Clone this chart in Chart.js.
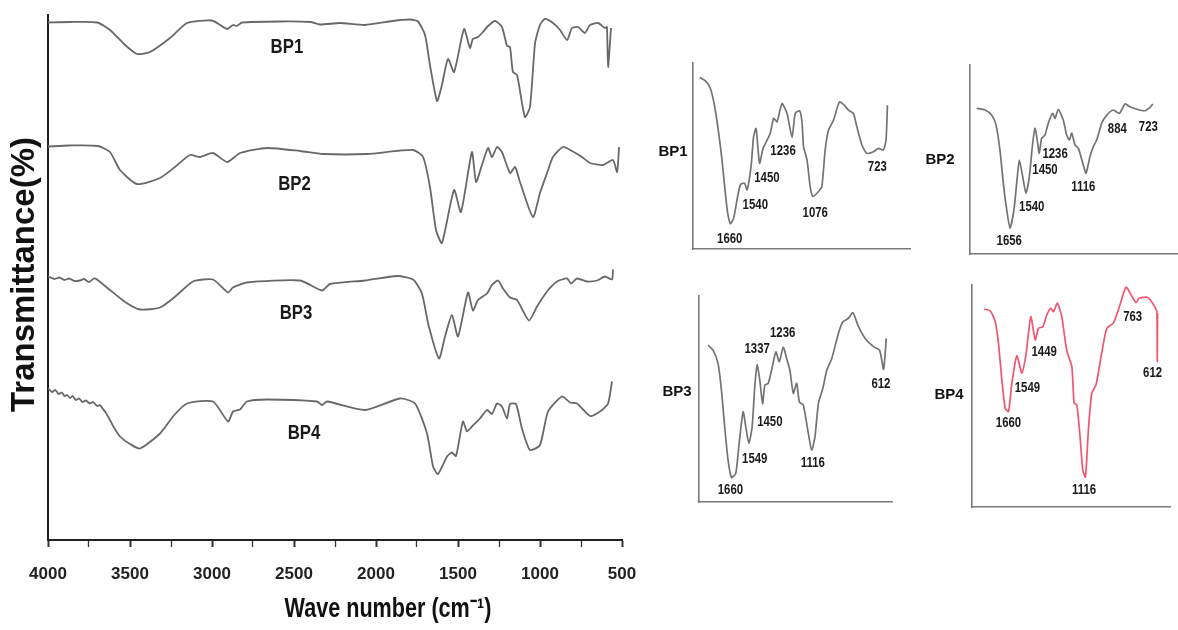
<!DOCTYPE html>
<html>
<head>
<meta charset="utf-8">
<title>FTIR spectra BP1-BP4</title>
<script src="https://cdn.jsdelivr.net/npm/chart.js@4.4.0/dist/chart.umd.min.js"></script>
<style>
  html, body { margin: 0; padding: 0; background: #fff; }
  body { width: 1178px; height: 630px; position: relative; overflow: hidden; }
  canvas { position: absolute; }
</style>
</head>
<body>
<canvas id="mainChart" width="660" height="630" style="left:0;top:0"></canvas>
<canvas id="inset1"></canvas>
<canvas id="inset2"></canvas>
<canvas id="inset3"></canvas>
<canvas id="inset4"></canvas>
<script>
// ---- main spectra (wave number cm-1, transmittance in arbitrary stacked units) ----
const bp1Wn = [4000,3870,3700,3622,3530,3457,3378,3256,3152,3000,2908,2872,2848,2817,2585,2400,2341,2220,2067,1900,1793,1744,1701,1671,1628,1601,1561,1524,1463,1427,1409,1378,1348,1317,1274,1232,1201,1183,1165,1140,1092,1061,1030,1000,970,921,878,835,805,768,726,695,646,604,592,585,567];
const bp1T = [103.5,103.6,103.5,102,99,97.2,97.6,100.4,103.4,103.9,102.2,103,102.8,103.5,103.7,103.6,103.1,103.4,103,103.8,104.1,103.7,101,95,87.8,90.6,96.2,93.6,102.2,98.4,100.2,100.6,101.6,102.8,103.8,102.6,98.8,98.6,93.6,93,84.6,86.6,99.4,103,104.2,103.4,102,100,102.4,102.6,101.4,103,103.4,102.4,102.6,94.6,102.4];

const bp2Wn = [4000,3870,3695,3622,3561,3457,3317,3226,3134,3073,2994,2908,2829,2665,2463,2323,2055,1774,1713,1671,1634,1598,1524,1482,1415,1390,1354,1317,1293,1262,1232,1183,1152,1122,1043,1000,957,921,860,805,744,695,616,555,530,518];
const bp2T = [78.7,78.9,78.8,77.6,74,71.2,72.4,74.6,77,76.6,77.4,75.6,77.4,78.4,77.8,77.2,77.2,78,76.6,70.6,62,59.4,70,65.6,77.6,71.6,75,78.4,76.6,78.6,77.6,73.4,74.6,71.6,64.6,69.4,73.4,76.6,78.6,77.8,76.6,75.4,75,76,73.6,78.6];

const bp3Wn = [4000,3960,3930,3900,3870,3840,3805,3780,3750,3720,3701,3622,3530,3439,3317,3220,3116,2994,2902,2872,2787,2463,2329,2280,2067,1872,1774,1720,1680,1616,1579,1537,1500,1439,1409,1378,1323,1293,1256,1226,1183,1140,1067,1018,957,896,835,811,774,713,652,604,561,555];
const bp3T = [52.7,52.2,52.5,52,52.3,51.8,51.9,52.2,51.6,52.3,52.1,50,47.6,46.1,46.5,48.8,51.7,52.1,49.5,50.5,51.5,51.9,49.9,51.2,51.9,52.8,52.1,49.3,43,36.3,40.7,45,40.7,49.5,45.9,48,49.3,51,51.9,50.3,48.5,48,43.9,46.7,49.7,51.7,52.3,51.3,52.3,51.7,51.9,52.7,52.1,54.1];

const bp4Wn = [4000,3975,3955,3935,3915,3900,3884,3865,3850,3830,3810,3790,3770,3744,3725,3700,3683,3665,3650,3622,3600,3561,3500,3439,3317,3230,3152,2994,2902,2872,2829,2787,2665,2360,2329,2299,2067,1854,1762,1689,1652,1622,1567,1537,1512,1470,1445,1415,1366,1323,1293,1262,1232,1201,1183,1146,1110,1061,1000,951,866,817,774,695,634,585,561];
const bp4T = [30.3,29.6,30,29.2,29.5,28.8,29,28.4,28.8,28,28.3,27.6,27.9,27.3,27.6,26.8,27,26.2,25.6,24,22.6,20.7,19.2,18.3,21.3,25,27.3,27.7,23.7,25.7,26.1,27.7,28.1,27.7,27,27.7,26,28.3,27.3,21.3,14.7,13.2,16.7,17.5,16.8,23.7,21.7,22.7,24.3,26,25.2,27.3,26.7,24.3,27.2,27.2,22.3,18,19,25.7,28.7,27.5,27.3,24.8,25.7,27.3,31.7];

const seriesNames = ['BP1', 'BP2', 'BP3', 'BP4'];
const seriesNameWn = [2543, 2497, 2488, 2439];
const seriesNameT = [98.6, 71.2, 45.4, 21.4];

const xTicks = [4000, 3500, 3000, 2500, 2000, 1500, 1000, 500];
const yTitle = 'Transmittance(%)';
const xTitle = 'Wave number (cm\u207B\u00B9)';

// ---- inset spectra (zoomed 1900-500 cm-1 region) ----
const ins1Wn = [1854,1818,1787,1761,1734,1713,1692,1677,1660,1639,1618,1597,1571,1554,1529,1513,1497,1475,1453,1432,1407,1386,1364,1333,1301,1269,1249,1221,1206,1196,1174,1154,1137,1101,1080,1059,1038,1006,968,938,911,880,858,826,795,753,721,690,673,664];
const ins1T = [92.2,90.4,86.3,77.3,62.2,47.9,30,19.3,13.6,16.6,26.4,34.5,35.4,31.8,44.3,60.3,64.8,46.1,54.1,57.7,62.2,70.2,68.4,78.2,72.9,60,72.9,74.3,68.4,55,47.9,33.5,28.2,30.9,33.5,53.2,63.9,69.3,79.1,77.3,74.7,72.9,65.7,55.9,51.4,52.3,54.1,53.2,58.6,77.3];
const ins1Peaks = ['1660', '1540', '1450', '1236', '1076', '723'];
const ins1PeakWn = [1664, 1502, 1428, 1326, 1122, 728];
const ins1PeakT = [5.4, 23.7, 38.4, 52.7, 19.3, 44.3];

const ins2Wn = [1892,1833,1786,1755,1727,1703,1679,1656,1628,1604,1590,1566,1543,1519,1498,1479,1463,1449,1432,1408,1385,1354,1337,1314,1279,1255,1236,1219,1196,1172,1137,1118,1090,1066,1042,1007,971,925,882,842,806,759,700,665,645];
const ins2T = [77.1,76.2,73.5,68.3,55,37.4,23.3,13.6,23.3,40.9,49.7,40.9,32.1,40.9,56.8,66.5,60.3,53.3,61.2,63,69.2,74.4,71.8,76.6,70.9,63,60.3,63.9,57.7,55.9,47.1,42.7,51.5,56.8,60.3,69.2,73.5,76.2,74.4,79.4,77.9,76.6,75.8,77.6,79.4];
const ins2Peaks = ['1656', '1540', '1450', '1236', '1116', '884', '723'];
const ins2PeakWn = [1661, 1502, 1408, 1337, 1137, 896, 677];
const ins2PeakT = [7, 24.7, 44.4, 52.9, 35.6, 66, 67.4];

const ins3Wn = [1819,1785,1751,1728,1706,1683,1660,1631,1608,1581,1563,1542,1520,1502,1486,1468,1449,1434,1411,1388,1359,1336,1309,1286,1264,1241,1218,1200,1173,1139,1116,1094,1071,1041,1014,980,935,905,867,837,799,754,697,656,629,611];
const ins3T = [76.2,73.7,67.3,54.3,36.5,20.3,11.9,13.8,28.4,43.8,36.5,28.4,36.5,55.9,66.5,59.2,47.8,56.7,57.6,64,72.9,68.1,75.1,69.7,64,52.7,57.6,48.6,47,33.3,25.2,31.6,47.8,55.1,64,69.7,81.9,87.5,89.2,91.9,85.1,79.4,75.4,73.7,64.4,79.4];
const ins3Peaks = ['1660', '1549', '1450', '1337', '1236', '1116', '612'];
const ins3PeakWn = [1667, 1502, 1400, 1486, 1313, 1109, 647];
const ins3PeakT = [5.7, 21.1, 38.9, 74.1, 82.2, 19, 57.2];

const ins4Wn = [1832,1789,1754,1731,1707,1683,1660,1636,1601,1565,1535,1502,1471,1448,1417,1389,1361,1342,1314,1283,1260,1243,1212,1196,1177,1154,1135,1116,1095,1071,1041,1001,965,919,876,829,789,758,736,679,648,617,610,608,606];
const ins4T = [89.1,88.4,83.5,73.8,57.3,44.5,43,55.8,68.1,60.3,69.3,85.7,75.3,80.5,81.2,86.5,89.5,88,91.8,85.7,75.3,69.3,63.2,46.8,46,31.8,16.8,13.5,34.8,51.3,55,69.3,80.5,82.8,90.2,99,95.1,92,94,94.5,92.5,89.1,87.3,65.5,87.3];
const ins4Peaks = ['1660', '1549', '1449', '1116', '763', '612'];
const ins4PeakWn = [1660, 1526, 1408, 1126, 782, 641];
const ins4PeakT = [37.8, 53.5, 70, 7.8, 85.5, 60.3];

const SANS = '"Liberation Sans", Arial, Helvetica, sans-serif';

function points(wn, t) {
    return wn.map((w, i) => ({ x: w, y: t[i] }));
}

// the source figure uses a narrow bold face; squeeze the regular one horizontally
function condensedText(ctx, text, x, y, squeeze) {
    ctx.save();
    ctx.translate(x, y);
    ctx.scale(squeeze, 1);
    ctx.fillText(text, 0, 0);
    ctx.restore();
}

// draws texts placed in data coordinates
function labelPlugin(texts, wns, ts, font, squeeze) {
    return {
        id: 'peakLabels',
        afterDatasetsDraw(chart) {
            const { ctx, scales } = chart;
            ctx.save();
            ctx.font = font;
            ctx.fillStyle = '#1a1a1a';
            ctx.textAlign = 'center';
            ctx.textBaseline = 'middle';
            texts.forEach((txt, i) => {
                condensedText(ctx, txt, scales.x.getPixelForValue(wns[i]), scales.y.getPixelForValue(ts[i]), squeeze);
            });
            ctx.restore();
        }
    };
}

// ---- main chart ----
const axisTitles = {
    id: 'axisTitles',
    afterDraw(chart) {
        const { ctx, chartArea } = chart;
        ctx.save();
        ctx.fillStyle = '#111';
        ctx.textAlign = 'center';
        ctx.textBaseline = 'middle';
        ctx.font = 'bold 33px ' + SANS;
        ctx.translate(chartArea.left - 23, (chartArea.top + chartArea.bottom) / 2 - 3);
        ctx.rotate(-Math.PI / 2);
        ctx.fillText(yTitle, 0, 0);
        ctx.restore();

        ctx.save();
        ctx.fillStyle = '#111';
        ctx.textAlign = 'center';
        ctx.textBaseline = 'middle';
        ctx.font = 'bold 27px ' + SANS;
        condensedText(ctx, xTitle, chartArea.left + 340, chartArea.bottom + 70, 0.8);
        ctx.restore();
    }
};

const lineStyle = {
    borderColor: '#686868',
    borderWidth: 1.8,
    pointRadius: 0,
    tension: 0.2,
    fill: false
};

new Chart(document.getElementById('mainChart'), {
    type: 'line',
    data: {
        datasets: [
            { label: 'BP1', data: points(bp1Wn, bp1T), ...lineStyle },
            { label: 'BP2', data: points(bp2Wn, bp2T), ...lineStyle },
            { label: 'BP3', data: points(bp3Wn, bp3T), ...lineStyle },
            { label: 'BP4', data: points(bp4Wn, bp4T), ...lineStyle }
        ]
    },
    options: {
        responsive: false,
        animation: false,
        layout: { padding: { left: 0, right: 38, top: 15, bottom: 0 } },
        plugins: { legend: { display: false }, tooltip: { enabled: false } },
        scales: {
            x: {
                type: 'linear',
                reverse: true,
                min: 500,
                max: 4000,
                ticks: {
                    stepSize: 250,
                    autoSkip: false,
                    maxRotation: 0,
                    padding: 17,
                    color: '#222',
                    font: { family: SANS, size: 17, weight: 'bold' },
                    callback: v => xTicks.includes(v) ? String(v) : ''
                },
                grid: {
                    display: true, drawOnChartArea: false, drawTicks: true, tickLength: 7,
                    tickWidth: ctx => (ctx.tick && xTicks.includes(ctx.tick.value)) ? 2 : 1.3,
                    tickColor: '#333'
                },
                border: { display: true, color: '#222', width: 2 },
                afterFit: s => { s.height = 90; }
            },
            y: {
                min: 0,
                max: 105,
                ticks: { display: false },
                grid: { display: false },
                border: { display: true, color: '#222', width: 2 },
                afterFit: s => { s.width = 48; }
            }
        }
    },
    plugins: [labelPlugin(seriesNames, seriesNameWn, seriesNameT, 'bold 21px ' + SANS, 0.8), axisTitles]
});

// ---- insets ----
const insets = [
    { id: 'inset1', wn: ins1Wn, t: ins1T, peaks: ins1Peaks, pWn: ins1PeakWn, pT: ins1PeakT, name: 'BP1', nameT: 52.3, nameOff: 20,
      box: { left: 693, top: 63, right: 910, bottom: 249 }, range: [521, 1897], color: '#737373' },
    { id: 'inset2', wn: ins2Wn, t: ins2T, peaks: ins2Peaks, pWn: ins2PeakWn, pT: ins2PeakT, name: 'BP2', nameT: 49.7, nameOff: 30,
      box: { left: 970, top: 65, right: 1177, bottom: 254 }, range: [474, 1939], color: '#737373' },
    { id: 'inset3', wn: ins3Wn, t: ins3T, peaks: ins3Peaks, pWn: ins3PeakWn, pT: ins3PeakT, name: 'BP3', nameT: 53.5, nameOff: 22,
      box: { left: 699, top: 296, right: 892, bottom: 502 }, range: [572, 1880], color: '#737373' },
    { id: 'inset4', wn: ins4Wn, t: ins4T, peaks: ins4Peaks, pWn: ins4PeakWn, pT: ins4PeakT, name: 'BP4', nameT: 50.5, nameOff: 23,
      box: { left: 972, top: 285, right: 1170, bottom: 507 }, range: [518, 1918], color: '#f0566e' }
];

insets.forEach(ins => {
    const canvas = document.getElementById(ins.id);
    const cLeft = ins.box.left - 45;
    const cTop = ins.box.top - 10;
    const cRight = Math.min(ins.box.right + 10, 1178);
    const cBottom = ins.box.bottom + 12;
    canvas.width = cRight - cLeft;
    canvas.height = cBottom - cTop;
    canvas.style.left = cLeft + 'px';
    canvas.style.top = cTop + 'px';

    const namePlugin = {
        id: 'insetName',
        afterDraw(chart) {
            const { ctx, chartArea, scales } = chart;
            ctx.save();
            ctx.font = 'bold 15px ' + SANS;
            ctx.fillStyle = '#111';
            ctx.textAlign = 'center';
            ctx.textBaseline = 'middle';
            ctx.fillText(ins.name, chartArea.left - ins.nameOff, scales.y.getPixelForValue(ins.nameT));
            ctx.restore();
        }
    };

    new Chart(canvas, {
        type: 'line',
        data: {
            datasets: [{
                label: ins.name,
                data: points(ins.wn, ins.t),
                borderColor: ins.color,
                borderWidth: 1.7,
                pointRadius: 0,
                tension: 0.2,
                fill: false
            }]
        },
        options: {
            responsive: false,
            animation: false,
            layout: { padding: { left: 45, top: 10, right: cRight - ins.box.right, bottom: 12 } },
            plugins: { legend: { display: false }, tooltip: { enabled: false } },
            scales: {
                x: {
                    type: 'linear',
                    reverse: true,
                    min: ins.range[0],
                    max: ins.range[1],
                    ticks: { display: false },
                    grid: { display: false },
                    border: { display: true, color: '#7a7a7a', width: 1.6 },
                    afterFit: s => { s.height = 0; }
                },
                y: {
                    min: 0,
                    max: 100,
                    ticks: { display: false },
                    grid: { display: false },
                    border: { display: true, color: '#7a7a7a', width: 1.6 },
                    afterFit: s => { s.width = 0; }
                }
            }
        },
        plugins: [labelPlugin(ins.peaks, ins.pWn, ins.pT, 'bold 15px ' + SANS, 0.76), namePlugin]
    });
});
</script>
</body>
</html>
